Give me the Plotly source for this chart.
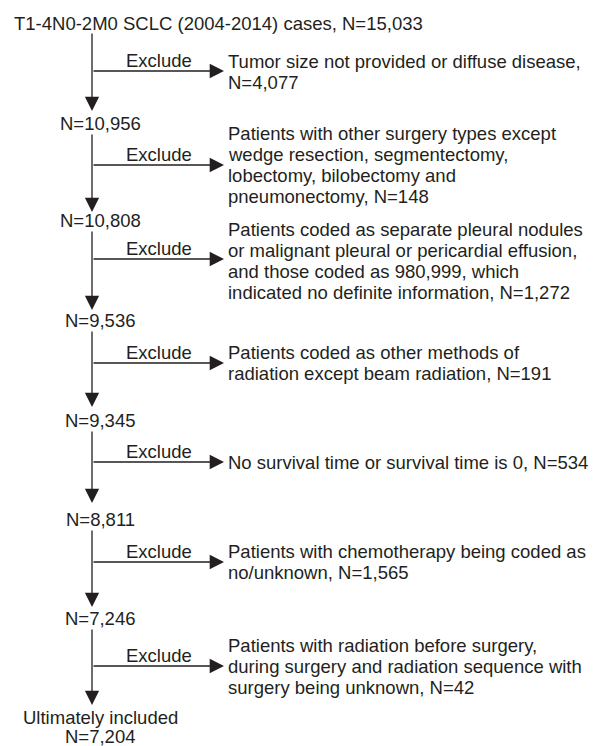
import plotly.graph_objects as go

# ---- data ----
start_label = "T1-4N0-2M0 SCLC (2004-2014) cases"
remaining_n = [15033, 10956, 10808, 9536, 9345, 8811, 7246, 7204]
excluded_n = [4077, 148, 1272, 191, 534, 1565, 42]
exclude_reasons = [
    ["Tumor size not provided or diffuse disease,", "N={n}"],
    ["Patients with other surgery types except", "wedge resection, segmentectomy,",
     "lobectomy, bilobectomy and", "pneumonectomy, N={n}"],
    ["Patients coded as separate pleural nodules", "or malignant pleural or pericardial effusion,",
     "and those coded as 980,999, which", "indicated no definite information, N={n}"],
    ["Patients coded as other methods of", "radiation except beam radiation, N={n}"],
    ["No survival time or survival time is 0, N={n}"],
    ["Patients with chemotherapy being coded as", "no/unknown, N={n}"],
    ["Patients with radiation before surgery,", "during surgery and radiation sequence with",
     "surgery being unknown, N={n}"],
]
final_label = "Ultimately included"
exclude_word = "Exclude"

# ---- layout positions (pixels) ----
W, H = 594, 746
X_MAIN = 92
X_LABEL = 100
X_TEXT = 226
X_TIP = 224
X_EXCL = 159
title_y = 23
node_y = [None, 123, 220, 320, 420, 519, 618]
final_y = [717, 736]
seg_top = [32, 133, 230, 330, 430, 529, 628]
arrow_tip = [111, 212, 310, 407, 503, 607, 705]
excl_y = [71, 165, 259, 363, 462, 562, 666]
text_first_y = [61, 133, 229, 352, 462, 551, 645]
LINE_H = 21.3
FONT = "Liberation Sans, Arial, Helvetica, sans-serif"
FS = 18.5
COL = "#231f20"

fmt = lambda v: f"{v:,}"

fig = go.Figure()
fig.add_trace(go.Scatter(x=[0, W], y=[0, H], mode="markers",
                         marker=dict(opacity=0), hoverinfo="skip", showlegend=False))

ann = []

# title
ann.append(dict(x=12, y=title_y, text=f"{start_label}, N={fmt(remaining_n[0])}",
                xanchor="left", yanchor="middle", showarrow=False))
# intermediate nodes
for i in range(1, 7):
    ann.append(dict(x=X_LABEL, y=node_y[i], text=f"N={fmt(remaining_n[i])}",
                    xanchor="center", yanchor="middle", showarrow=False))
# final
ann.append(dict(x=X_LABEL, y=final_y[0], text=final_label,
                xanchor="center", yanchor="middle", showarrow=False))
ann.append(dict(x=X_LABEL, y=final_y[1], text=f"N={fmt(remaining_n[7])}",
                xanchor="center", yanchor="middle", showarrow=False))

arrow_style = dict(axref="x", ayref="y", xref="x", yref="y", text="",
                   showarrow=True, arrowhead=2, arrowsize=2.2, arrowwidth=1.3,
                   arrowcolor=COL, standoff=0, startstandoff=0)

for i in range(7):
    # vertical arrow
    ann.append(dict(x=X_MAIN, y=arrow_tip[i], ax=X_MAIN, ay=seg_top[i], **arrow_style))
    # horizontal arrow
    ann.append(dict(x=X_TIP, y=excl_y[i], ax=X_MAIN, ay=excl_y[i], **arrow_style))
    ann.append(dict(x=X_EXCL, y=excl_y[i] - 11, text=exclude_word,
                    xanchor="center", yanchor="middle", showarrow=False))
    for j, line in enumerate(exclude_reasons[i]):
        ann.append(dict(x=X_TEXT, y=text_first_y[i] + j * LINE_H,
                        text=line.replace("{n}", fmt(excluded_n[i])),
                        xanchor="left", yanchor="middle", showarrow=False))

fig.update_layout(
    width=W, height=H,
    margin=dict(l=0, r=0, t=0, b=0),
    paper_bgcolor="white", plot_bgcolor="white",
    xaxis=dict(range=[0, W], visible=False, fixedrange=True),
    yaxis=dict(range=[H, 0], visible=False, fixedrange=True),
    annotations=ann,
    font=dict(family=FONT, size=FS, color=COL),
    showlegend=False,
)

fig.write_html("out.html", config={"displayModeBar": False},
               post_script="document.body.style.margin='0';document.body.style.padding='0';")
